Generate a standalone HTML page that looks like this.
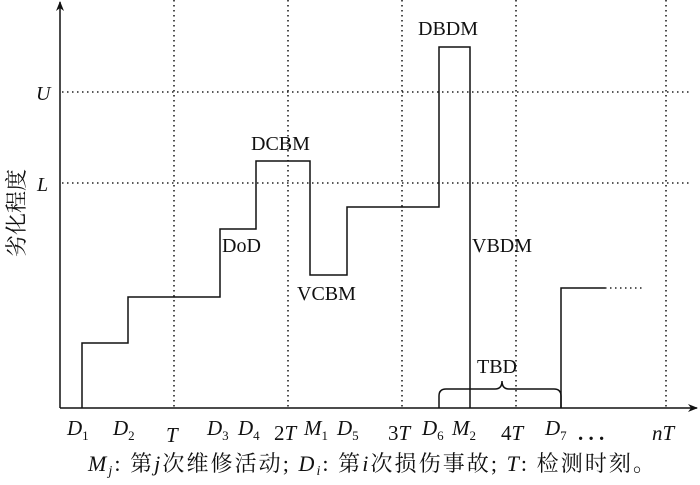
<!DOCTYPE html>
<html><head><meta charset="utf-8"><style>
body{margin:0;background:#fff;}
svg{display:block;}
text{font-family:"Liberation Serif","Noto Serif CJK SC",serif;fill:#111;}
</style></head><body>
<svg width="700" height="485" viewBox="0 0 700 485">
<defs><marker id="a" markerWidth="10" markerHeight="10" refX="9" refY="5" orient="auto" markerUnits="userSpaceOnUse"><path d="M0,1 L10,5 L0,9 L3,5 Z" fill="#111"/></marker></defs>
<g stroke="#222" stroke-width="1.6" stroke-dasharray="1.5,3.5" fill="none">
<line x1="174" y1="0" x2="174" y2="408"/>
<line x1="288" y1="0" x2="288" y2="408"/>
<line x1="402" y1="0" x2="402" y2="408"/>
<line x1="516" y1="0" x2="516" y2="408"/>
<line x1="666" y1="0" x2="666" y2="408"/>
<line x1="62" y1="92" x2="690" y2="92"/>
<line x1="62" y1="183" x2="690" y2="183"/>
<line x1="605" y1="288" x2="642" y2="288"/>
</g>
<g stroke="#111" stroke-width="1.5" fill="none">
<line x1="60" y1="408" x2="60" y2="2" marker-end="url(#a)"/>
<line x1="60" y1="408" x2="697" y2="408" marker-end="url(#a)"/>
<polyline points="82,408 82,343 128,343 128,297 220,297 220,229 256,229 256,161 310,161 310,275 347,275 347,207 439,207 439,47 470,47 470,408"/>
<polyline points="561,408 561,288 605,288"/>
<path d="M439,408 L439,396 Q439,389 446,389 L495,389 Q502,389 502,381 Q502,389 509,389 L554,389 Q561,389 561,396 L561,408"/>
</g>
<g font-size="20">
<text x="222" y="252">DoD</text>
<text x="251" y="150">DCBM</text>
<text x="297" y="300">VCBM</text>
<text x="418" y="35">DBDM</text>
<text x="472" y="252">VBDM</text>
<text x="477" y="373">TBD</text>
<text x="36" y="100" font-style="italic">U</text>
<text x="37" y="191" font-style="italic">L</text>
</g>
<text font-size="22" transform="translate(24,257) rotate(-90)" style="font-family:'Noto Serif CJK SC',serif">劣化程度</text>
<g font-size="21">
<text x="67" y="435"><tspan font-style="italic">D</tspan><tspan font-size="13" dy="5">1</tspan></text>
<text x="113" y="435"><tspan font-style="italic">D</tspan><tspan font-size="13" dy="5">2</tspan></text>
<text x="166" y="442" font-style="italic">T</text>
<text x="207" y="435"><tspan font-style="italic">D</tspan><tspan font-size="13" dy="5">3</tspan></text>
<text x="238" y="435"><tspan font-style="italic">D</tspan><tspan font-size="13" dy="5">4</tspan></text>
<text x="274" y="440">2<tspan font-style="italic">T</tspan></text>
<text x="304" y="435"><tspan font-style="italic">M</tspan><tspan font-size="13" dy="5">1</tspan></text>
<text x="337" y="435"><tspan font-style="italic">D</tspan><tspan font-size="13" dy="5">5</tspan></text>
<text x="388" y="440">3<tspan font-style="italic">T</tspan></text>
<text x="422" y="435"><tspan font-style="italic">D</tspan><tspan font-size="13" dy="5">6</tspan></text>
<text x="452" y="435"><tspan font-style="italic">M</tspan><tspan font-size="13" dy="5">2</tspan></text>
<text x="501" y="440">4<tspan font-style="italic">T</tspan></text>
<text x="545" y="435"><tspan font-style="italic">D</tspan><tspan font-size="13" dy="5">7</tspan></text>
<text x="578" y="440" font-weight="bold">. . .</text>
<text x="652" y="440"><tspan font-style="italic">n</tspan><tspan font-style="italic">T</tspan></text>
</g>
<text x="88" y="471" font-size="22" textLength="567" lengthAdjust="spacing"><tspan font-style="italic">M</tspan><tspan font-size="14" dy="4" font-style="italic">j</tspan><tspan dy="-4">: 第</tspan><tspan font-style="italic">j</tspan>次维修活动; <tspan font-style="italic">D</tspan><tspan font-size="14" dy="4" font-style="italic">i</tspan><tspan dy="-4">: 第</tspan><tspan font-style="italic">i</tspan>次损伤事故; <tspan font-style="italic">T</tspan>: 检测时刻。</text>
</svg>
</body></html>
